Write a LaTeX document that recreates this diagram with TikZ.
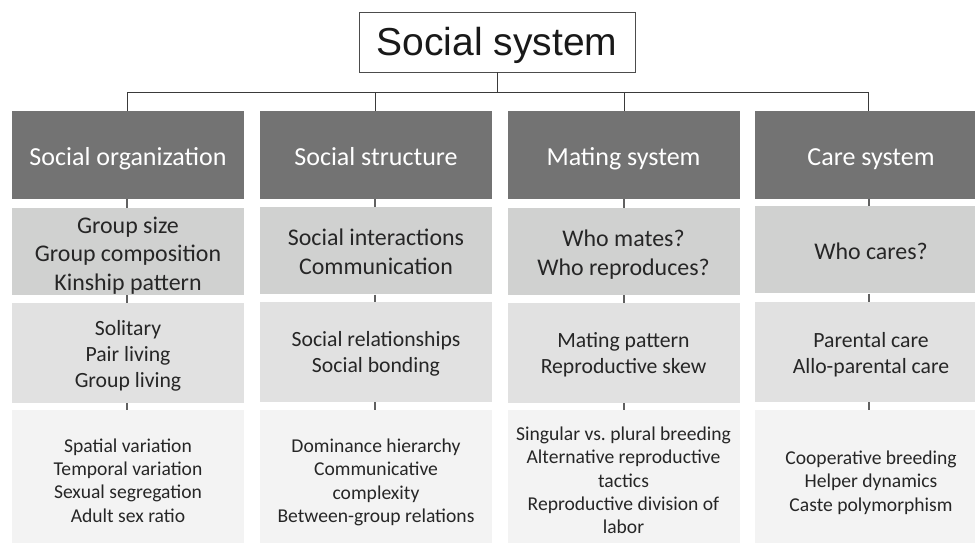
\documentclass[tikz,border=0pt]{standalone}
\usepackage{fontspec}
\setmainfont{Carlito}
\newfontfamily\titlefont{Liberation Sans}
\definecolor{hdrc}{HTML}{737373}
\definecolor{rowb}{HTML}{D0D1D0}
\definecolor{rowc}{HTML}{E1E1E1}
\definecolor{rowd}{HTML}{F3F3F3}
\definecolor{txt}{HTML}{262626}
\definecolor{linec}{HTML}{3A3A3A}
\frenchspacing
% #1 style, #2 name, #3 position, #4 text shift, #5 text
\newcommand\mycell[5]{%
  \node[#1] (#2) at (#3) {};
  \node[#1txt] (#2t) at ([yshift=#4]#2.center) {#5};}
\begin{document}
\begin{tikzpicture}[x=1pt,y=1pt,
  box/.style={minimum width=232pt, inner sep=0pt},
  txtbase/.style={inner sep=0pt, align=center, text=txt},
  hdrbox/.style={box, fill=hdrc, minimum height=88pt},
  hdrboxtxt/.style={txtbase, text=white, font=\fontsize{26}{30}\selectfont},
  bbox/.style={box, fill=rowb, minimum height=87pt},
  bboxtxt/.style={txtbase, font=\fontsize{23.9}{28.7}\selectfont},
  cbox/.style={box, fill=rowc, minimum height=100pt},
  cboxtxt/.style={txtbase, font=\fontsize{21.7}{25.8}\selectfont},
  dbox/.style={box, fill=rowd, minimum height=135pt},
  dboxtxt/.style={txtbase, font=\fontsize{19.6}{23.3}\selectfont},
  conn/.style={draw=linec, line width=0.9pt},
  rconn/.style={draw=black!62, line width=1.1pt}]
\useasboundingbox (0,0) rectangle (975,543);
% title
\node[draw=black!70, line width=0.9pt, fill=white, minimum width=276pt, minimum height=60pt, inner sep=0pt] (title) at (497,501) {};
\node[inner sep=0pt, text=black!90, font=\titlefont\fontsize{39}{44}\selectfont] (titlet) at ([yshift=-3pt]title.center) {Social system};
\coordinate (bar) at (497,451);
% headers
\mycell{hdrbox}{h1}{128,388}{-4pt}{Social organization}
\mycell{hdrbox}{h2}{376,388}{-2pt}{Social structure}
\mycell{hdrbox}{h3}{623.5,388}{-4pt}{Mating system}
\mycell{hdrbox}{h4}{871,388}{-4pt}{Care system}
% row b
\mycell{bbox}{b1}{128,291.5}{-4pt}{Group size\\Group composition\\Kinship pattern}
\mycell{bbox}{b2}{376,292}{-1pt}{Social interactions\\Communication}
\mycell{bbox}{b3}{623.5,291.5}{-3pt}{Who mates?\\Who reproduces?}
\mycell{bbox}{b4}{871,293}{-1pt}{Who cares?}
% row c
\mycell{cbox}{c1}{128,190}{-3pt}{Solitary\\Pair living\\Group living}
\mycell{cbox}{c2}{376,191}{-2pt}{Social relationships\\Social bonding}
\mycell{cbox}{c3}{623.5,190}{-2pt}{Mating pattern\\Reproductive skew}
\mycell{cbox}{c4}{871,191}{-3pt}{Parental care\\Allo-parental care}
% row d
\mycell{dbox}{d1}{128,65.5}{-3pt}{Spatial variation\\Temporal variation\\Sexual segregation\\Adult sex ratio}
\mycell{dbox}{d2}{376,65.5}{-5pt}{Dominance hierarchy\\Communicative\\complexity\\Between-group relations}
\mycell{dbox}{d3}{623.5,65.5}{-3pt}{Singular vs.\ plural breeding\\Alternative reproductive\\tactics\\Reproductive division of\\labor}
\mycell{dbox}{d4}{871,65.5}{-5pt}{Cooperative breeding\\Helper dynamics\\Caste polymorphism}
% connectors
\draw[conn] (title.south) -- (title.south |- bar);
\draw[conn] (h1.north -| 127,0) -- (127,451) -- (868,451) -- (h4.north -| 868,0);
\draw[conn] (h2.north -| 375,0) -- (375,451);
\draw[conn] (h3.north -| 624,0) -- (624,451);
\foreach \c/\x in {1/127,2/375,3/624,4/869}{
  \draw[rconn] (h\c.south -| \x,0) -- (b\c.north -| \x,0);
  \draw[rconn] (b\c.south -| \x,0) -- (c\c.north -| \x,0);
  \draw[rconn] (c\c.south -| \x,0) -- (d\c.north -| \x,0);
}
\end{tikzpicture}
\end{document}
